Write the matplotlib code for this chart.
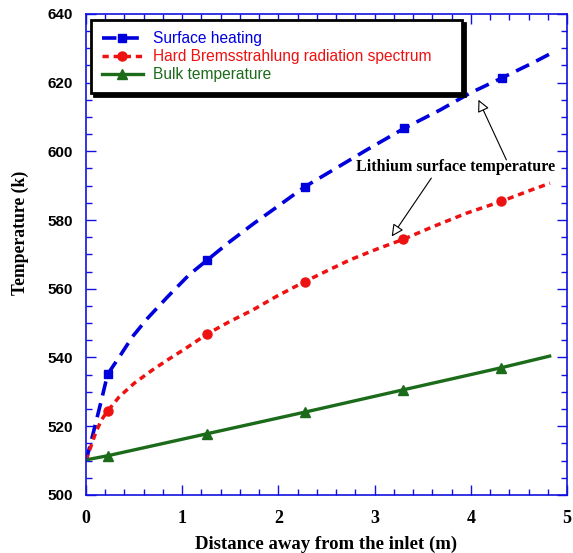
import matplotlib.pyplot as plt
from matplotlib.ticker import MultipleLocator

# values
x_surface = [0.0, 0.04, 0.08, 0.12, 0.16, 0.225, 0.35, 0.485, 0.64, 0.85, 1.07, 1.258, 1.5, 1.75,
             2.0, 2.276, 2.571, 2.918, 3.309, 3.68, 3.99, 4.32, 4.65, 4.82]
t_surface = [510.0, 514.0, 518.5, 523.0, 527.5, 535.1, 540.3, 546.1, 551.4, 557.7, 564.0, 568.3, 573.8, 579.1,
             584.1, 589.7, 594.6, 600.4, 606.7, 612.0, 616.9, 621.3, 625.8, 628.3]
mark_surface = [5, 11, 15, 18, 21]

x_brems = [0.0, 0.05, 0.1, 0.16, 0.225, 0.347, 0.502, 0.693, 0.849, 1.04, 1.258, 1.49, 1.733, 1.975,
           2.276, 2.564, 2.744, 3.02, 3.30, 3.61, 3.957, 4.314, 4.615, 4.823]
t_brems = [510.0, 514.0, 518.0, 521.8, 524.4, 528.6, 532.5, 536.4, 539.3, 542.7, 546.8, 550.4, 553.8, 557.7,
           562.1, 566.0, 568.4, 571.5, 574.4, 578.1, 582.0, 585.4, 588.6, 590.7]
mark_brems = [4, 10, 14, 18, 21]

x_bulk = [0.0, 0.225, 1.258, 2.276, 3.30, 4.314, 4.82]
t_bulk = [510.2, 511.4, 517.8, 524.1, 530.6, 537.0, 540.4]
mark_bulk = [1, 2, 3, 4, 5]

x_ticks = [0, 1, 2, 3, 4, 5]
y_ticks = [500, 520, 540, 560, 580, 600, 620, 640]

blue = '#0000dd'
red = '#ee1111'
green = '#1b6b1b'
axis_blue = '#1010e0'

fig = plt.figure(figsize=(5.73, 5.53), dpi=100)
ax = fig.add_axes([0.150, 0.105, 0.8395, 0.870])

ax.plot(x_surface, t_surface, color=blue, lw=2.6, dashes=(4.0, 2.2),
        marker='s', ms=6, markevery=mark_surface, label='Surface heating')
ax.plot(x_brems, t_brems, color=red, lw=2.5, dashes=(1.8, 1.4),
        marker='o', ms=6.5, markevery=mark_brems,
        label='Hard Bremsstrahlung radiation spectrum')
ax.plot(x_bulk, t_bulk, color=green, lw=2.4,
        marker='^', ms=6.5, markevery=mark_bulk, label='Bulk temperature')

ax.set_xlim(0, 5)
ax.set_ylim(500, 640)
ax.set_xticks(x_ticks)
ax.set_yticks(y_ticks)
ax.xaxis.set_minor_locator(MultipleLocator(0.2))
ax.yaxis.set_minor_locator(MultipleLocator(5))
ax.tick_params(which='both', direction='in', top=True, right=True, color=axis_blue)
ax.tick_params(which='major', length=7, width=1)
ax.tick_params(which='minor', length=4, width=1)
for s in ax.spines.values():
    s.set_color(axis_blue)
    s.set_linewidth(1.2)

for lab in ax.get_xticklabels():
    lab.set_fontfamily('Liberation Serif')
    lab.set_fontweight('bold')
    lab.set_fontsize(13)
for lab in ax.get_yticklabels():
    lab.set_fontfamily('Liberation Sans')
    lab.set_fontweight('bold')
    lab.set_fontsize(11)
ax.tick_params(axis='x', pad=11)
ax.tick_params(axis='y', pad=9.5)

ax.set_xlabel('Distance away from the inlet (m)', family='Liberation Serif',
              fontweight='bold', fontsize=13.5)
ax.xaxis.set_label_coords(0.5, -0.085)
ax.set_ylabel('Temperature (k)', family='Liberation Serif',
              fontweight='bold', fontsize=12.7)
ax.yaxis.set_label_coords(-0.118, 0.545)

leg = ax.legend(loc='upper left', bbox_to_anchor=(0.0104, 0.9875, 0.771, 0.0), mode='expand',
                prop={'family': 'Liberation Sans', 'size': 11.2},
                handlelength=2.6, handletextpad=0.65, borderpad=0.72, labelspacing=0.2,
                fancybox=False, shadow={'color': 'black', 'alpha': 1, 'shade': 0.0, 'ox': 2, 'oy': -2},
                framealpha=1, borderaxespad=0)
leg.get_frame().set_edgecolor('black')
leg.get_frame().set_linewidth(2)
for txt, c in zip(leg.get_texts(), [blue, red, green]):
    txt.set_color(c)

arrow = dict(arrowstyle='-|>', fc='white', ec='black', lw=0.8, mutation_scale=18, shrinkA=0, shrinkB=0)
ax.annotate('', xy=(4.08, 615.0), xytext=(4.37, 597.5), arrowprops=arrow)
ax.annotate('', xy=(3.178, 575.2), xytext=(3.59, 592.2), arrowprops=arrow)
ax.text(3.84, 595.4, 'Lithium surface temperature', fontsize=11.5, family='Liberation Serif',
        fontweight='bold', ha='center', va='center')

fig.savefig('out.png', dpi=100)
